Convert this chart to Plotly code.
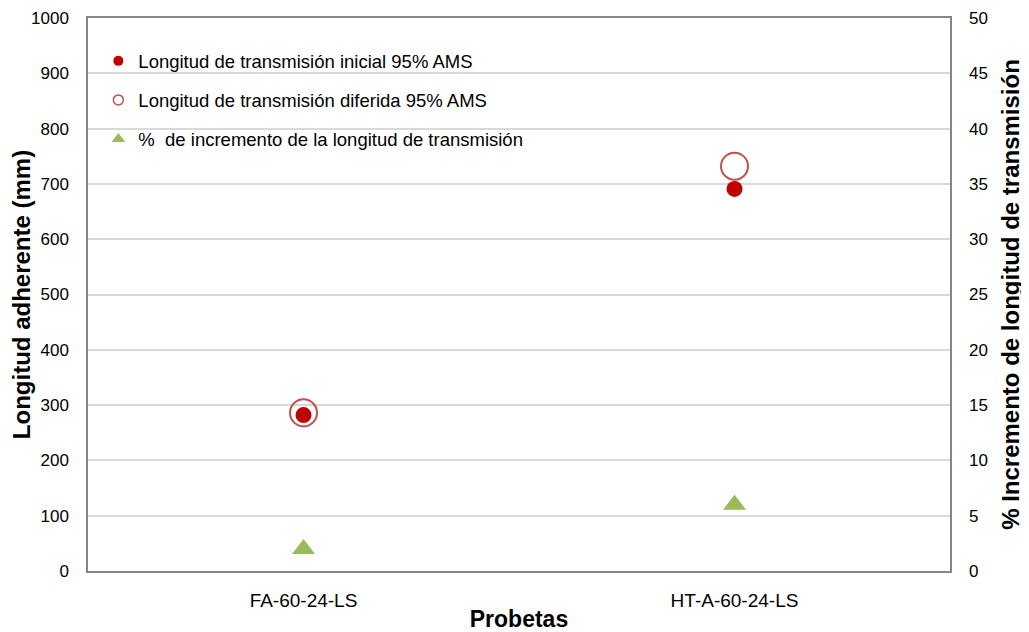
import plotly.graph_objects as go

categorias = ["FA-60-24-LS", "HT-A-60-24-LS"]
lt_inicial = [282, 691]
lt_diferida = [286, 732]
pct_incremento = [2.0, 6.0]

n_ini = "Longitud de transmisión inicial 95% AMS"
n_dif = "Longitud de transmisión diferida 95% AMS"
n_pct = "%  de incremento de la longitud de transmisión"

fig = go.Figure()
fig.add_trace(go.Scatter(
    x=categorias, y=lt_diferida, mode="markers", name=n_dif, showlegend=False,
    marker=dict(symbol="circle-open", size=27, color="#C0504D", line=dict(width=2, color="#C0504D")),
))
fig.add_trace(go.Scatter(
    x=categorias, y=lt_inicial, mode="markers", name=n_ini, showlegend=False,
    marker=dict(symbol="circle", size=16, color="#C00000"),
))
fig.add_trace(go.Scatter(
    x=categorias, y=pct_incremento, mode="markers", yaxis="y2", name=n_pct, showlegend=False,
    marker=dict(symbol="triangle-up", size=20, color="#9BBB59"),
))
# legend entries (smaller symbols, like the reference legend)
fig.add_trace(go.Scatter(
    x=[None], y=[None], mode="markers", name=n_ini, legendgroup="a", legendrank=1,
    marker=dict(symbol="circle", size=10, color="#C00000"),
))
fig.add_trace(go.Scatter(
    x=[None], y=[None], mode="markers", name=n_dif, legendgroup="b", legendrank=2,
    marker=dict(symbol="circle-open", size=10, color="#C0504D", line=dict(width=1.5, color="#C0504D")),
))
fig.add_trace(go.Scatter(
    x=[None], y=[None], mode="markers", name=n_pct, legendgroup="c", legendrank=3, yaxis="y2",
    marker=dict(symbol="triangle-up", size=12, color="#9BBB59"),
))

fig.update_layout(
    width=1021, height=624,
    margin=dict(l=80, r=79, t=10, b=61),
    plot_bgcolor="white", paper_bgcolor="white",
    font=dict(family="Liberation Sans, Arial", color="black", size=17),
    xaxis=dict(
        type="category", range=[-0.5, 1.5], automargin=False,
        showline=True, linecolor="#868686", linewidth=1.5, mirror=True,
        showgrid=False, ticks="", tickfont=dict(size=19), ticklabelstandoff=11,
        title=dict(text="<b>Probetas</b>", font=dict(size=23), standoff=1),
    ),
    yaxis=dict(
        range=[0, 1000], dtick=100, automargin=False,
        showline=True, linecolor="#868686", linewidth=1.5, mirror=True,
        showgrid=True, gridcolor="#D9D9D9", gridwidth=1.5, zeroline=False,
        ticks="", tickfont=dict(size=17), ticklabelstandoff=14,
        title=dict(text="<b>Longitud adherente (mm)</b>", font=dict(size=24), standoff=5),
    ),
    yaxis2=dict(
        range=[0, 50], dtick=5, overlaying="y", side="right", automargin=False,
        showgrid=False, zeroline=False, ticks="", tickfont=dict(size=17),
        ticklabelstandoff=18,
        title=dict(text="<b>% Incremento de longitud de transmisión</b>", font=dict(size=24), standoff=15),
    ),
    legend=dict(
        x=0.012, y=0.956, xanchor="left", yanchor="top",
        bgcolor="rgba(0,0,0,0)", font=dict(size=18.5),
        tracegroupgap=12, itemwidth=30,
    ),
)

fig.write_html("out.html")
